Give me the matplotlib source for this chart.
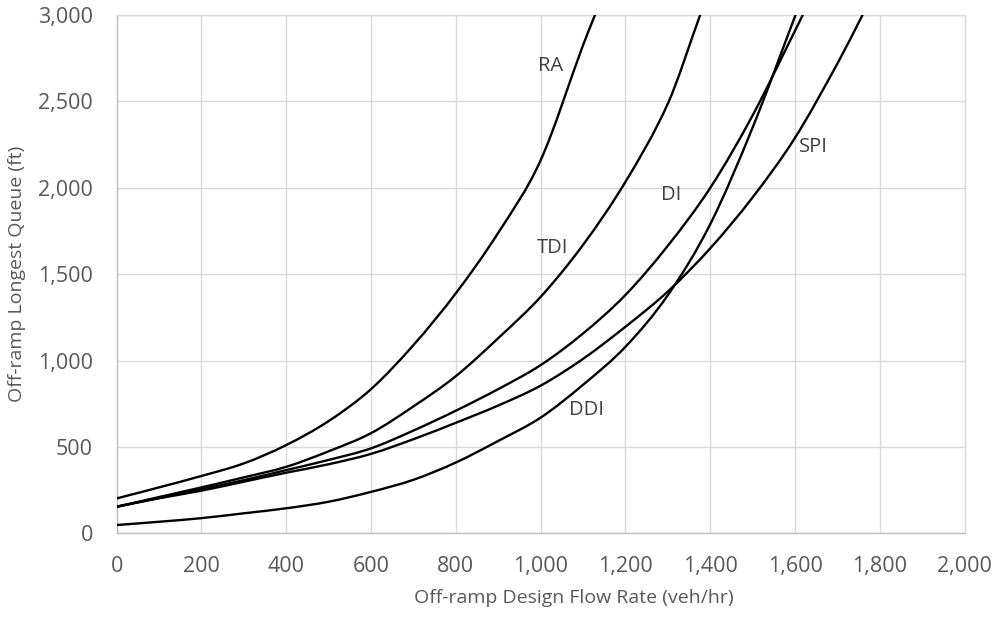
import matplotlib
matplotlib.use("Agg")
import matplotlib.pyplot as plt
from matplotlib.ticker import FuncFormatter, MultipleLocator
from matplotlib.path import Path
from matplotlib.patches import PathPatch

plt.rcParams['font.family'] = ['Open Sans', 'DejaVu Sans']

# ---- data ----
ra_x = [0, 100, 200, 300, 400, 500, 600, 700, 800, 900, 1000, 1100, 1128]
ra_y = [202, 266, 332, 405, 511, 650, 835, 1090, 1390, 1740, 2160, 2826, 3000]

tdi_x = [0, 100, 200, 300, 400, 500, 600, 700, 800, 900, 1000, 1100, 1200, 1300, 1376]
tdi_y = [154, 210, 266, 324, 385, 475, 580, 735, 910, 1130, 1369, 1670, 2035, 2488, 3000]

di_x = [0, 100, 200, 300, 400, 500, 600, 700, 800, 900, 1000, 1100, 1200, 1300, 1400, 1500, 1600, 1618]
di_y = [154, 205, 255, 308, 366, 425, 492, 595, 710, 835, 974, 1157, 1380, 1665, 2000, 2420, 2910, 3000]

spi_x = [0, 100, 200, 300, 400, 500, 600, 700, 800, 900, 1000, 1100, 1200, 1300, 1400, 1500, 1600, 1700, 1759]
spi_y = [154, 203, 247, 299, 351, 400, 460, 545, 640, 740, 855, 1010, 1196, 1400, 1650, 1945, 2290, 2720, 3000]

ddi_x = [0, 100, 200, 300, 400, 500, 600, 700, 800, 900, 1000, 1100, 1200, 1300, 1400, 1500, 1601]
ddi_y = [48, 67, 88, 116, 145, 183, 240, 310, 410, 535, 670, 860, 1080, 1379, 1790, 2350, 3000]

series_names = ["RA", "TDI", "DI", "SPI", "DDI"]
label_x = [1023, 1029, 1307, 1642, 1109]
label_y = [2706, 1654, 1961, 2238, 711]

x_label = "Off-ramp Design Flow Rate (veh/hr)"
y_label = "Off-ramp Longest Queue (ft)"


def smooth_path(xs, ys):
    """Smoothed line: cubic Hermite/Bezier segments through the data points."""
    n = len(xs)
    slopes = []
    for i in range(n):
        if i == 0:
            m = (ys[1] - ys[0]) / (xs[1] - xs[0])
        elif i == n - 1:
            m = (ys[-1] - ys[-2]) / (xs[-1] - xs[-2])
        else:
            m = (ys[i + 1] - ys[i - 1]) / (xs[i + 1] - xs[i - 1])
        slopes.append(m)
    verts = [(xs[0], ys[0])]
    codes = [Path.MOVETO]
    for i in range(n - 1):
        h = xs[i + 1] - xs[i]
        c1 = (xs[i] + h / 3.0, ys[i] + slopes[i] * h / 3.0)
        c2 = (xs[i + 1] - h / 3.0, ys[i + 1] - slopes[i + 1] * h / 3.0)
        verts += [c1, c2, (xs[i + 1], ys[i + 1])]
        codes += [Path.CURVE4] * 3
    return Path(verts, codes)


# ---- figure ----
fig = plt.figure(figsize=(9.93, 6.18), dpi=100)
ax = fig.add_axes([0.1175, 0.137, 0.854, 0.8387])

text_color = "#595959"
grid_color = "#d9d9d9"
axis_color = "#bfbfbf"

for xs, ys in [(ra_x, ra_y), (tdi_x, tdi_y), (di_x, di_y), (spi_x, spi_y), (ddi_x, ddi_y)]:
    patch = PathPatch(smooth_path(xs, ys), fill=False, edgecolor="black",
                      linewidth=1.7, capstyle="round", joinstyle="round", zorder=3)
    ax.add_patch(patch)

for name, lx, ly in zip(series_names, label_x, label_y):
    ax.text(lx, ly, name, ha="center", va="center", fontsize=14.5,
            color="#404040", zorder=4)

ax.set_xlim(0, 2000)
ax.set_ylim(0, 3000)
ax.xaxis.set_major_locator(MultipleLocator(200))
ax.yaxis.set_major_locator(MultipleLocator(500))
fmt = FuncFormatter(lambda v, p: f"{int(round(v)):,}")
ax.xaxis.set_major_formatter(fmt)
ax.yaxis.set_major_formatter(fmt)

ax.grid(True, color=grid_color, linewidth=1.0, zorder=0)
ax.set_axisbelow(True)
for side in ["top", "right"]:
    ax.spines[side].set_color(grid_color)
    ax.spines[side].set_linewidth(1.0)
for side in ["left", "bottom"]:
    ax.spines[side].set_color(axis_color)
    ax.spines[side].set_linewidth(1.0)

ax.tick_params(axis="both", length=0, labelsize=15.5, labelcolor=text_color)
ax.tick_params(axis="x", pad=16)
ax.tick_params(axis="y", pad=17)

ax.set_xlabel(x_label, fontsize=14, color=text_color)
ax.set_ylabel(y_label, fontsize=14, color=text_color)
ax.xaxis.label.set_va("center")
ax.yaxis.label.set_va("center")
ax.xaxis.set_label_coords(0.539, -0.1248)
ax.yaxis.set_label_coords(-0.1176, 0.5)

fig.savefig("out.png", dpi=100)
